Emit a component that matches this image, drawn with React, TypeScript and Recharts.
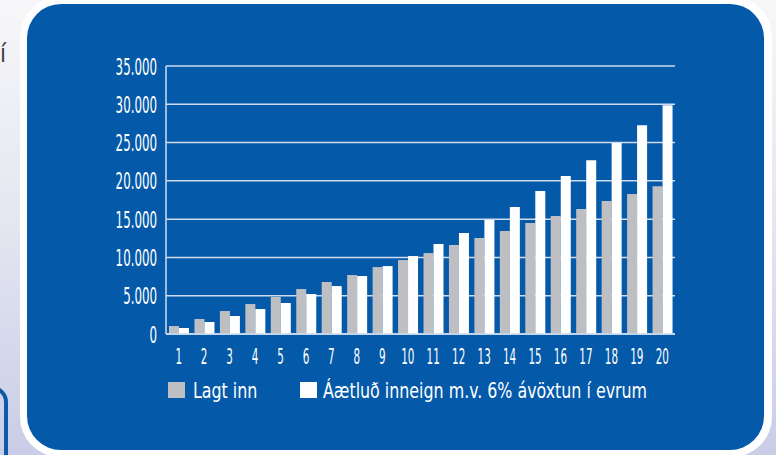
import { BarChart, Bar, XAxis, YAxis, CartesianGrid } from 'recharts';

const years = ['1', '2', '3', '4', '5', '6', '7', '8', '9', '10', '11', '12', '13', '14', '15', '16', '17', '18', '19', '20'];
const lagtInn = [1040, 1960, 3000, 3910, 4830, 5870, 6790, 7700, 8740, 9660, 10570, 11610, 12530, 13440, 14480, 15400, 16310, 17360, 18270, 19310];
const aetlud = [780, 1570, 2350, 3260, 4050, 5220, 6260, 7570, 8870, 10180, 11750, 13180, 14880, 16570, 18660, 20620, 22700, 24930, 27270, 29880];
const yTicks = [0, 5000, 10000, 15000, 20000, 25000, 30000, 35000];

const seriesNames = ['Lagt inn', 'Áætluð inneign m.v. 6% ávöxtun í evrum'];

const data = years.map((year, i) => ({ year, lagt: lagtInn[i], aetlud: aetlud[i] }));

const FONT = "'DejaVu Sans Condensed', 'DejaVu Sans', sans-serif";
const BLUE = '#0459a9';
const GRAY = '#bebfc3';
const LINE = '#cddcef';

const fmt = (v: number) => (v === 0 ? '0' : v.toLocaleString('de-DE'));

const YTick = ({ x, y, payload }: any) => (
  <text
    transform={`translate(${x - 1},${y + 8.5}) scale(0.56,1)`}
    textAnchor="end"
    fill="#fff"
    fontSize={23.5}
    fontFamily={FONT}
  >
    {fmt(payload.value)}
  </text>
);

const XTick = ({ x, y, payload }: any) => (
  <text
    transform={`translate(${x},${y + 21.5}) scale(0.55,1)`}
    textAnchor="middle"
    fill="#fff"
    fontSize={21}
    fontFamily={FONT}
  >
    {payload.value}
  </text>
);

const legendText = {
  position: 'absolute' as const,
  top: 380,
  fontFamily: FONT,
  fontSize: 21.5,
  lineHeight: 1,
  color: '#fff',
  whiteSpace: 'nowrap' as const,
  transform: 'scaleX(0.82)',
  transformOrigin: 'left top',
};

export default function App() {
  return (
    <div
      style={{
        position: 'absolute',
        left: 0,
        top: 0,
        width: 776,
        height: 455,
        overflow: 'hidden',
        background: 'linear-gradient(to bottom, #f7f7f9 0%, #e6e8f1 45%, #c9cde7 100%)',
      }}
    >
      <div style={{ position: 'absolute', left: 0, top: 40, fontFamily: FONT, fontSize: 24, color: '#3a3a3a' }}>í</div>
      <div
        style={{
          position: 'absolute',
          left: -60,
          top: 386,
          width: 60,
          height: 200,
          border: '4px solid #0d5aa8',
          borderRadius: 16,
        }}
      />
      <div
        style={{
          position: 'absolute',
          left: 20,
          top: -3,
          width: 752,
          height: 460,
          background: '#fff',
          borderRadius: 40,
        }}
      />
      <div
        style={{
          position: 'absolute',
          left: 27,
          top: 4,
          width: 737,
          height: 446,
          background: BLUE,
          borderRadius: 34,
        }}
      />
      <div style={{ position: 'absolute', left: 0, top: 0 }}>
        <BarChart
          width={776}
          height={455}
          data={data}
          margin={{ top: 66, right: 101, bottom: 91, left: 106 }}
          barGap={0}
        >
          <CartesianGrid vertical={false} stroke={LINE} strokeWidth={1.5} />
          <XAxis
            dataKey="year"
            height={30}
            tickLine={false}
            axisLine={{ stroke: LINE, strokeWidth: 1.5 }}
            tick={<XTick />}
            interval={0}
          />
          <YAxis
            width={60}
            domain={[0, 35000]}
            ticks={yTicks}
            tickLine={false}
            axisLine={{ stroke: LINE, strokeWidth: 1.5 }}
            tick={<YTick />}
            interval={0}
          />
          <Bar dataKey="lagt" name={seriesNames[0]} fill={GRAY} barSize={10} isAnimationActive={false} />
          <Bar dataKey="aetlud" name={seriesNames[1]} fill="#ffffff" barSize={10} isAnimationActive={false} />
        </BarChart>
      </div>
      <div style={{ position: 'absolute', left: 168, top: 382, width: 17, height: 16, background: GRAY }} />
      <div style={{ ...legendText, left: 193 }}>{seriesNames[0]}</div>
      <div style={{ position: 'absolute', left: 300, top: 382, width: 17, height: 16, background: '#fff' }} />
      <div style={{ ...legendText, left: 323 }}>{seriesNames[1]}</div>
    </div>
  );
}
